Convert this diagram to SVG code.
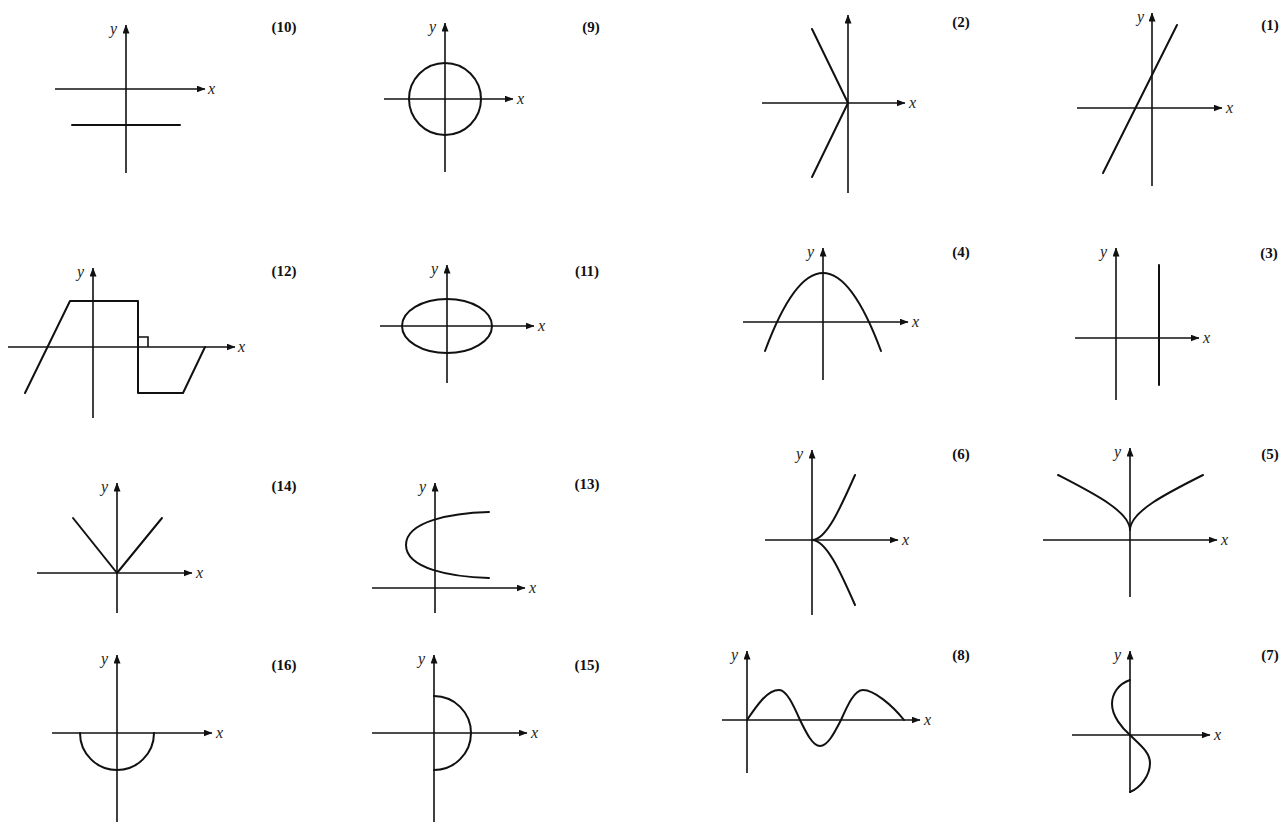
<svg xmlns="http://www.w3.org/2000/svg" width="1283" height="822" viewBox="0 0 1283 822">
<defs>
<marker id="arr" markerUnits="userSpaceOnUse" markerWidth="9" markerHeight="7" refX="8.5" refY="3.5" orient="auto">
<path d="M0,0 L9,3.5 L0,7 z" fill="#111"/>
</marker>
<style>
.ax{stroke:#111;stroke-width:1.6;fill:none}
.axa{stroke:#111;stroke-width:1.6;fill:none;marker-end:url(#arr)}
.cv{stroke:#111;stroke-width:2;fill:none;stroke-linejoin:round;stroke-linecap:round}
.lb{font-family:"Liberation Serif",serif;font-weight:bold;font-size:15px;fill:#111;text-anchor:middle}
.vl{font-family:"Liberation Serif",serif;font-style:italic;font-size:16px;fill:#222}
</style>
</defs>
<rect width="1283" height="822" fill="#fff"/>

<g id="g10">
<line class="axa" x1="126" y1="173" x2="126" y2="25"/>
<line class="axa" x1="55" y1="89" x2="205" y2="89"/>
<line class="cv" x1="72" y1="125" x2="180" y2="125"/>
<text class="vl" x="110" y="34">y</text><text class="vl" x="208" y="94">x</text>
<text class="lb" x="284" y="32">(10)</text>
</g>

<g id="g9">
<line class="axa" x1="445" y1="172" x2="445" y2="23"/>
<line class="axa" x1="384" y1="99" x2="513" y2="99"/>
<circle class="cv" cx="445" cy="99" r="36"/>
<text class="vl" x="429" y="32">y</text><text class="vl" x="517" y="104">x</text>
<text class="lb" x="591" y="32">(9)</text>
</g>

<g id="g2">
<line class="axa" x1="848" y1="193" x2="848" y2="15"/>
<line class="axa" x1="762" y1="103" x2="905" y2="103"/>
<polyline class="cv" points="812,29 848,103 812,177"/>
<text class="vl" x="909" y="108">x</text>
<text class="lb" x="961" y="27">(2)</text>
</g>

<g id="g1">
<line class="axa" x1="1152" y1="186" x2="1152" y2="13"/>
<line class="axa" x1="1077" y1="108" x2="1222" y2="108"/>
<line class="cv" x1="1103" y1="173" x2="1177" y2="25"/>
<text class="vl" x="1137" y="22">y</text><text class="vl" x="1226" y="113">x</text>
<text class="lb" x="1270" y="30">(1)</text>
</g>

<g id="g12">
<line class="axa" x1="93" y1="418" x2="93" y2="268"/>
<line class="axa" x1="8" y1="347" x2="235" y2="347"/>
<polyline class="cv" points="25,393 70,301 138,301 138,393 183,393 205,347"/>
<polyline class="ax" points="138,337 148,337 148,347"/>
<text class="vl" x="77" y="277">y</text><text class="vl" x="238" y="352">x</text>
<text class="lb" x="284" y="276">(12)</text>
</g>

<g id="g11">
<line class="axa" x1="447" y1="383" x2="447" y2="265"/>
<line class="axa" x1="380" y1="326" x2="534" y2="326"/>
<ellipse class="cv" cx="447" cy="326" rx="45" ry="27"/>
<text class="vl" x="431" y="274">y</text><text class="vl" x="538" y="331">x</text>
<text class="lb" x="587" y="276">(11)</text>
</g>

<g id="g4">
<line class="axa" x1="823" y1="380" x2="823" y2="248"/>
<line class="axa" x1="743" y1="322" x2="908" y2="322"/>
<path class="cv" d="M765,351 Q823,195 881,351"/>
<text class="vl" x="807" y="257">y</text><text class="vl" x="912" y="327">x</text>
<text class="lb" x="961" y="257">(4)</text>
</g>

<g id="g3">
<line class="axa" x1="1116" y1="400" x2="1116" y2="248"/>
<line class="axa" x1="1075" y1="338" x2="1199" y2="338"/>
<line class="cv" x1="1159" y1="265" x2="1159" y2="385"/>
<text class="vl" x="1100" y="257">y</text><text class="vl" x="1203" y="343">x</text>
<text class="lb" x="1269" y="258">(3)</text>
</g>

<g id="g14">
<line class="axa" x1="117" y1="613" x2="117" y2="483"/>
<line class="axa" x1="37" y1="573" x2="192" y2="573"/>
<polyline class="cv" points="73,518 117,573 162,518"/>
<text class="vl" x="101" y="492">y</text><text class="vl" x="196" y="578">x</text>
<text class="lb" x="284" y="491">(14)</text>
</g>

<g id="g13">
<line class="axa" x1="435" y1="613" x2="435" y2="483"/>
<line class="axa" x1="372" y1="588" x2="525" y2="588"/>
<path class="cv" d="M489,512 C452,513 406,521 406,545 C406,569 452,577 489,578"/>
<text class="vl" x="419" y="492">y</text><text class="vl" x="529" y="593">x</text>
<text class="lb" x="587" y="489">(13)</text>
</g>

<g id="g6">
<line class="axa" x1="812" y1="615" x2="812" y2="450"/>
<line class="axa" x1="765" y1="540" x2="898" y2="540"/>
<path class="cv" d="M812,540 C826.3,540 840.7,507.4 855,475 M812,540 C826.3,540 840.7,572.6 855,605"/>
<text class="vl" x="796" y="459">y</text><text class="vl" x="902" y="545">x</text>
<text class="lb" x="961" y="459">(6)</text>
</g>

<g id="g5">
<line class="axa" x1="1130" y1="597" x2="1130" y2="448"/>
<line class="axa" x1="1043" y1="540" x2="1217" y2="540"/>
<path class="cv" d="M1130,530 C1130,511.7 1166.6,493.3 1203,475 M1130,530 C1130,511.7 1093.4,493.3 1058,475"/>
<text class="vl" x="1114" y="457">y</text><text class="vl" x="1221" y="545">x</text>
<text class="lb" x="1270" y="459">(5)</text>
</g>

<g id="g16">
<line class="axa" x1="117" y1="822" x2="117" y2="655"/>
<line class="axa" x1="52" y1="733" x2="212" y2="733"/>
<path class="cv" d="M80,733 A37,37 0 0 0 154,733"/>
<text class="vl" x="101" y="664">y</text><text class="vl" x="216" y="738">x</text>
<text class="lb" x="284" y="670">(16)</text>
</g>

<g id="g15">
<line class="axa" x1="434" y1="822" x2="434" y2="655"/>
<line class="axa" x1="372" y1="733" x2="527" y2="733"/>
<path class="cv" d="M434,696 A37,37 0 0 1 434,770"/>
<text class="vl" x="418" y="664">y</text><text class="vl" x="531" y="738">x</text>
<text class="lb" x="587" y="670">(15)</text>
</g>

<g id="g8">
<line class="axa" x1="747" y1="773" x2="747" y2="651"/>
<line class="axa" x1="722" y1="720" x2="920" y2="720"/>
<path class="cv" d="M747,720 C757.4,704.6 767.4,690 779,690 C786.6,690 793.2,704.6 800,720 C806.5,733.3 812.8,746 820,746 C827.6,746 834.2,733.3 841,720 C847.8,704.6 854.4,690 863,690 C874,690 892,705 904,720"/>
<text class="vl" x="731" y="660">y</text><text class="vl" x="924" y="725">x</text>
<text class="lb" x="961" y="660">(8)</text>
</g>

<g id="g7">
<line class="axa" x1="1130" y1="793" x2="1130" y2="651"/>
<line class="axa" x1="1072" y1="735" x2="1210" y2="735"/>
<path class="cv" d="M1130,680 C1118,684 1112,694 1112,704 C1112,716 1122,728 1130,735 C1140,745 1150,752 1150,763 C1150,776 1140,788 1130,792"/>
<text class="vl" x="1114" y="660">y</text><text class="vl" x="1214" y="740">x</text>
<text class="lb" x="1270" y="660">(7)</text>
</g>
</svg>
